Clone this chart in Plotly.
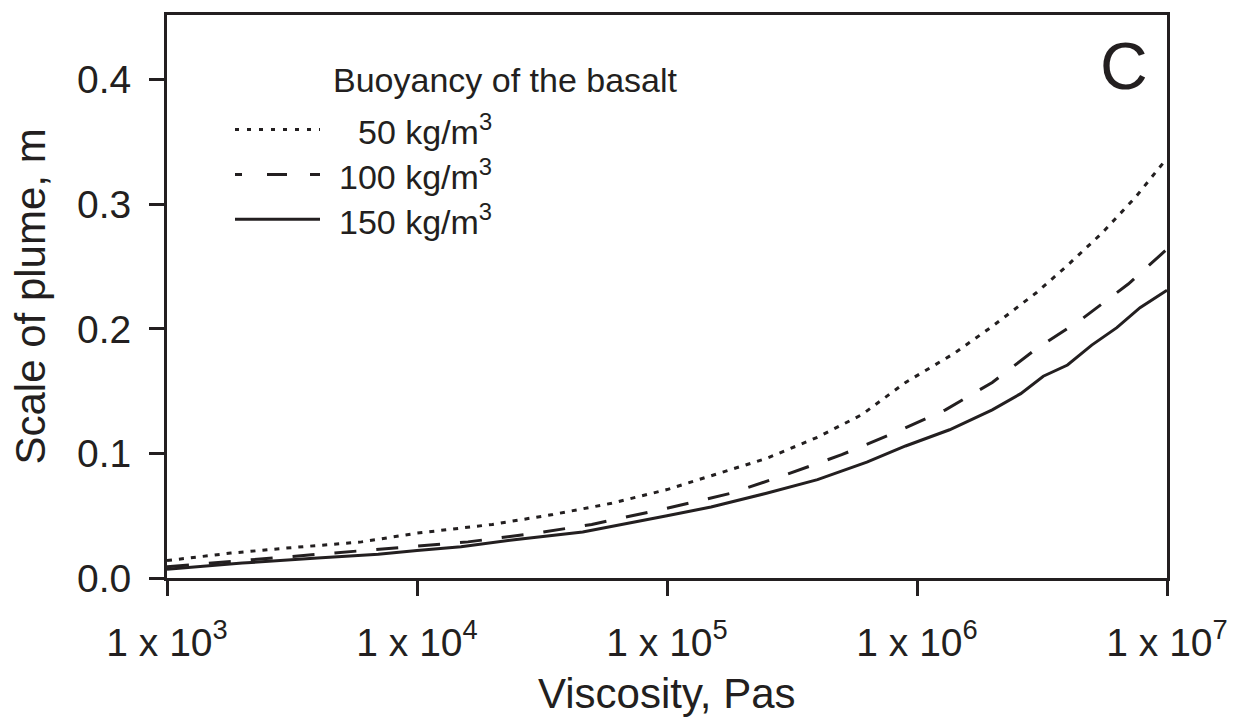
import plotly.graph_objects as go

# ---- data ----
buoyancy = [50, 100, 150]  # kg/m^3

visc_50 = [1e3, 1.8e3, 3e3, 6e3, 1e4, 2e4, 3.5e4, 6e4, 1e5, 1.5e5, 2.5e5, 4e5,
           6e5, 9e5, 1.4e6, 2e6, 3e6, 4e6, 5.5e6, 7.5e6, 1e7]
scale_50 = [0.014, 0.020, 0.024, 0.029, 0.036, 0.043, 0.051, 0.060, 0.071, 0.082, 0.096, 0.113,
            0.131, 0.157, 0.180, 0.202, 0.229, 0.251, 0.277, 0.306, 0.337]

visc_100 = [1e3, 2e3, 4e3, 7e3, 1e4, 1.6e4, 3e4, 5e4, 1e5, 1.8e5, 3e5, 5e5,
            8e5, 1.3e6, 2e6, 3e6, 4.5e6, 7e6, 1e7]
scale_100 = [0.009, 0.014, 0.019, 0.023, 0.026, 0.029, 0.036, 0.043, 0.056, 0.068, 0.083, 0.099,
             0.116, 0.135, 0.157, 0.184, 0.207, 0.236, 0.264]

visc_150 = [1e3, 2e3, 4e3, 7e3, 1e4, 1.5e4, 2.5e4, 4.6e4, 1e5, 1.5e5, 2.5e5, 4e5,
            6.3e5, 9e5, 1.35e6, 2e6, 2.6e6, 3.2e6, 4e6, 5e6, 6.3e6, 7.8e6, 1e7]
scale_150 = [0.007, 0.012, 0.016, 0.019, 0.022, 0.025, 0.031, 0.037, 0.050, 0.057, 0.068, 0.079,
             0.093, 0.106, 0.119, 0.135, 0.148, 0.162, 0.171, 0.187, 0.201, 0.217, 0.231]

x_tickvals = [1e3, 1e4, 1e5, 1e6, 1e7]
x_ticktext = ["1 x 10<sup>3</sup>", "1 x 10<sup>4</sup>", "1 x 10<sup>5</sup>",
              "1 x 10<sup>6</sup>", "1 x 10<sup>7</sup>"]
y_tickvals = [0.0, 0.1, 0.2, 0.3, 0.4]
y_ticktext = ["0.0", "0.1", "0.2", "0.3", "0.4"]

legend_title = "Buoyancy of the basalt"
panel_label = "C"
x_title = "Viscosity, Pas"
y_title = "Scale of plume, m"

# ---- styling ----
INK = "#231f20"
FONT = "Liberation Sans, Arial, sans-serif"
dashes = ["5px,7px", "22px,20px", "solid"]
legend_dashes = ["4px,8px", "7px,25px,20px,23px,10px", "solid"]
series = [(visc_50, scale_50), (visc_100, scale_100), (visc_150, scale_150)]

fig = go.Figure()
for (xs, ys), b, d in zip(series, buoyancy, dashes):
    fig.add_trace(go.Scatter(
        x=xs, y=ys, mode="lines", name=f"{b} kg/m<sup>3</sup>",
        line=dict(color=INK, width=3, dash=d), showlegend=False,
    ))

L, R, T, B = 167, 83, 13, 144
W, H = 1250, 722
pw, ph = W - L - R, H - T - B

def px_x(px):
    return (px - L) / pw

def px_y(py):
    return (H - B - py) / ph

shapes = []
annotations = []
row_y = [128, 173, 218]
for b, d, ry in zip(buoyancy, legend_dashes, row_y):
    shapes.append(dict(type="line", xref="paper", yref="paper",
                       x0=px_x(235), x1=px_x(320), y0=px_y(ry), y1=px_y(ry),
                       line=dict(color=INK, width=3, dash=d)))
    annotations.append(dict(xref="paper", yref="paper", x=px_x(494), y=px_y(ry),
                            xanchor="right", yanchor="middle", showarrow=False,
                            text=f"{b} kg/m<sup>3</sup>",
                            font=dict(family=FONT, size=34, color=INK)))

annotations.append(dict(xref="paper", yref="paper", x=px_x(331), y=px_y(78),
                        xanchor="left", yanchor="middle", showarrow=False,
                        text=legend_title, font=dict(family=FONT, size=34, color=INK)))
annotations.append(dict(xref="paper", yref="paper", x=px_x(1124), y=px_y(64),
                        xanchor="center", yanchor="middle", showarrow=False,
                        text=panel_label, font=dict(family=FONT, size=66, color=INK)))
annotations.append(dict(xref="paper", yref="paper", x=0.5, y=px_y(694),
                        xanchor="center", yanchor="middle", showarrow=False,
                        text=x_title, font=dict(family=FONT, size=42, color=INK)))
annotations.append(dict(xref="paper", yref="paper", x=px_x(30), y=0.5,
                        xanchor="center", yanchor="middle", showarrow=False, textangle=-90,
                        text=y_title, font=dict(family=FONT, size=42, color=INK)))

fig.update_layout(
    width=W, height=H,
    margin=dict(l=L, r=R, t=T, b=B, pad=0),
    paper_bgcolor="white", plot_bgcolor="white",
    font=dict(family=FONT, color=INK),
    shapes=shapes, annotations=annotations,
)
fig.update_xaxes(
    type="log", range=[3, 7], tickvals=x_tickvals, ticktext=x_ticktext,
    ticks="outside", ticklen=15, tickwidth=2.5, tickcolor=INK,
    showline=True, linewidth=3, linecolor=INK, mirror=True,
    showgrid=False, zeroline=False,
    tickfont=dict(family=FONT, size=39, color=INK), ticklabelstandoff=13,
)
fig.update_yaxes(
    range=[0, 0.452], tickvals=y_tickvals, ticktext=y_ticktext,
    ticks="outside", ticklen=15, tickwidth=2.5, tickcolor=INK,
    showline=True, linewidth=3, linecolor=INK, mirror=True,
    showgrid=False, zeroline=False,
    tickfont=dict(family=FONT, size=39, color=INK), ticklabelstandoff=10,
)

fig.write_html(
    "out.html",
    config={"displayModeBar": False},
    post_script="document.body.style.margin='0';document.body.style.overflow='hidden';",
)
